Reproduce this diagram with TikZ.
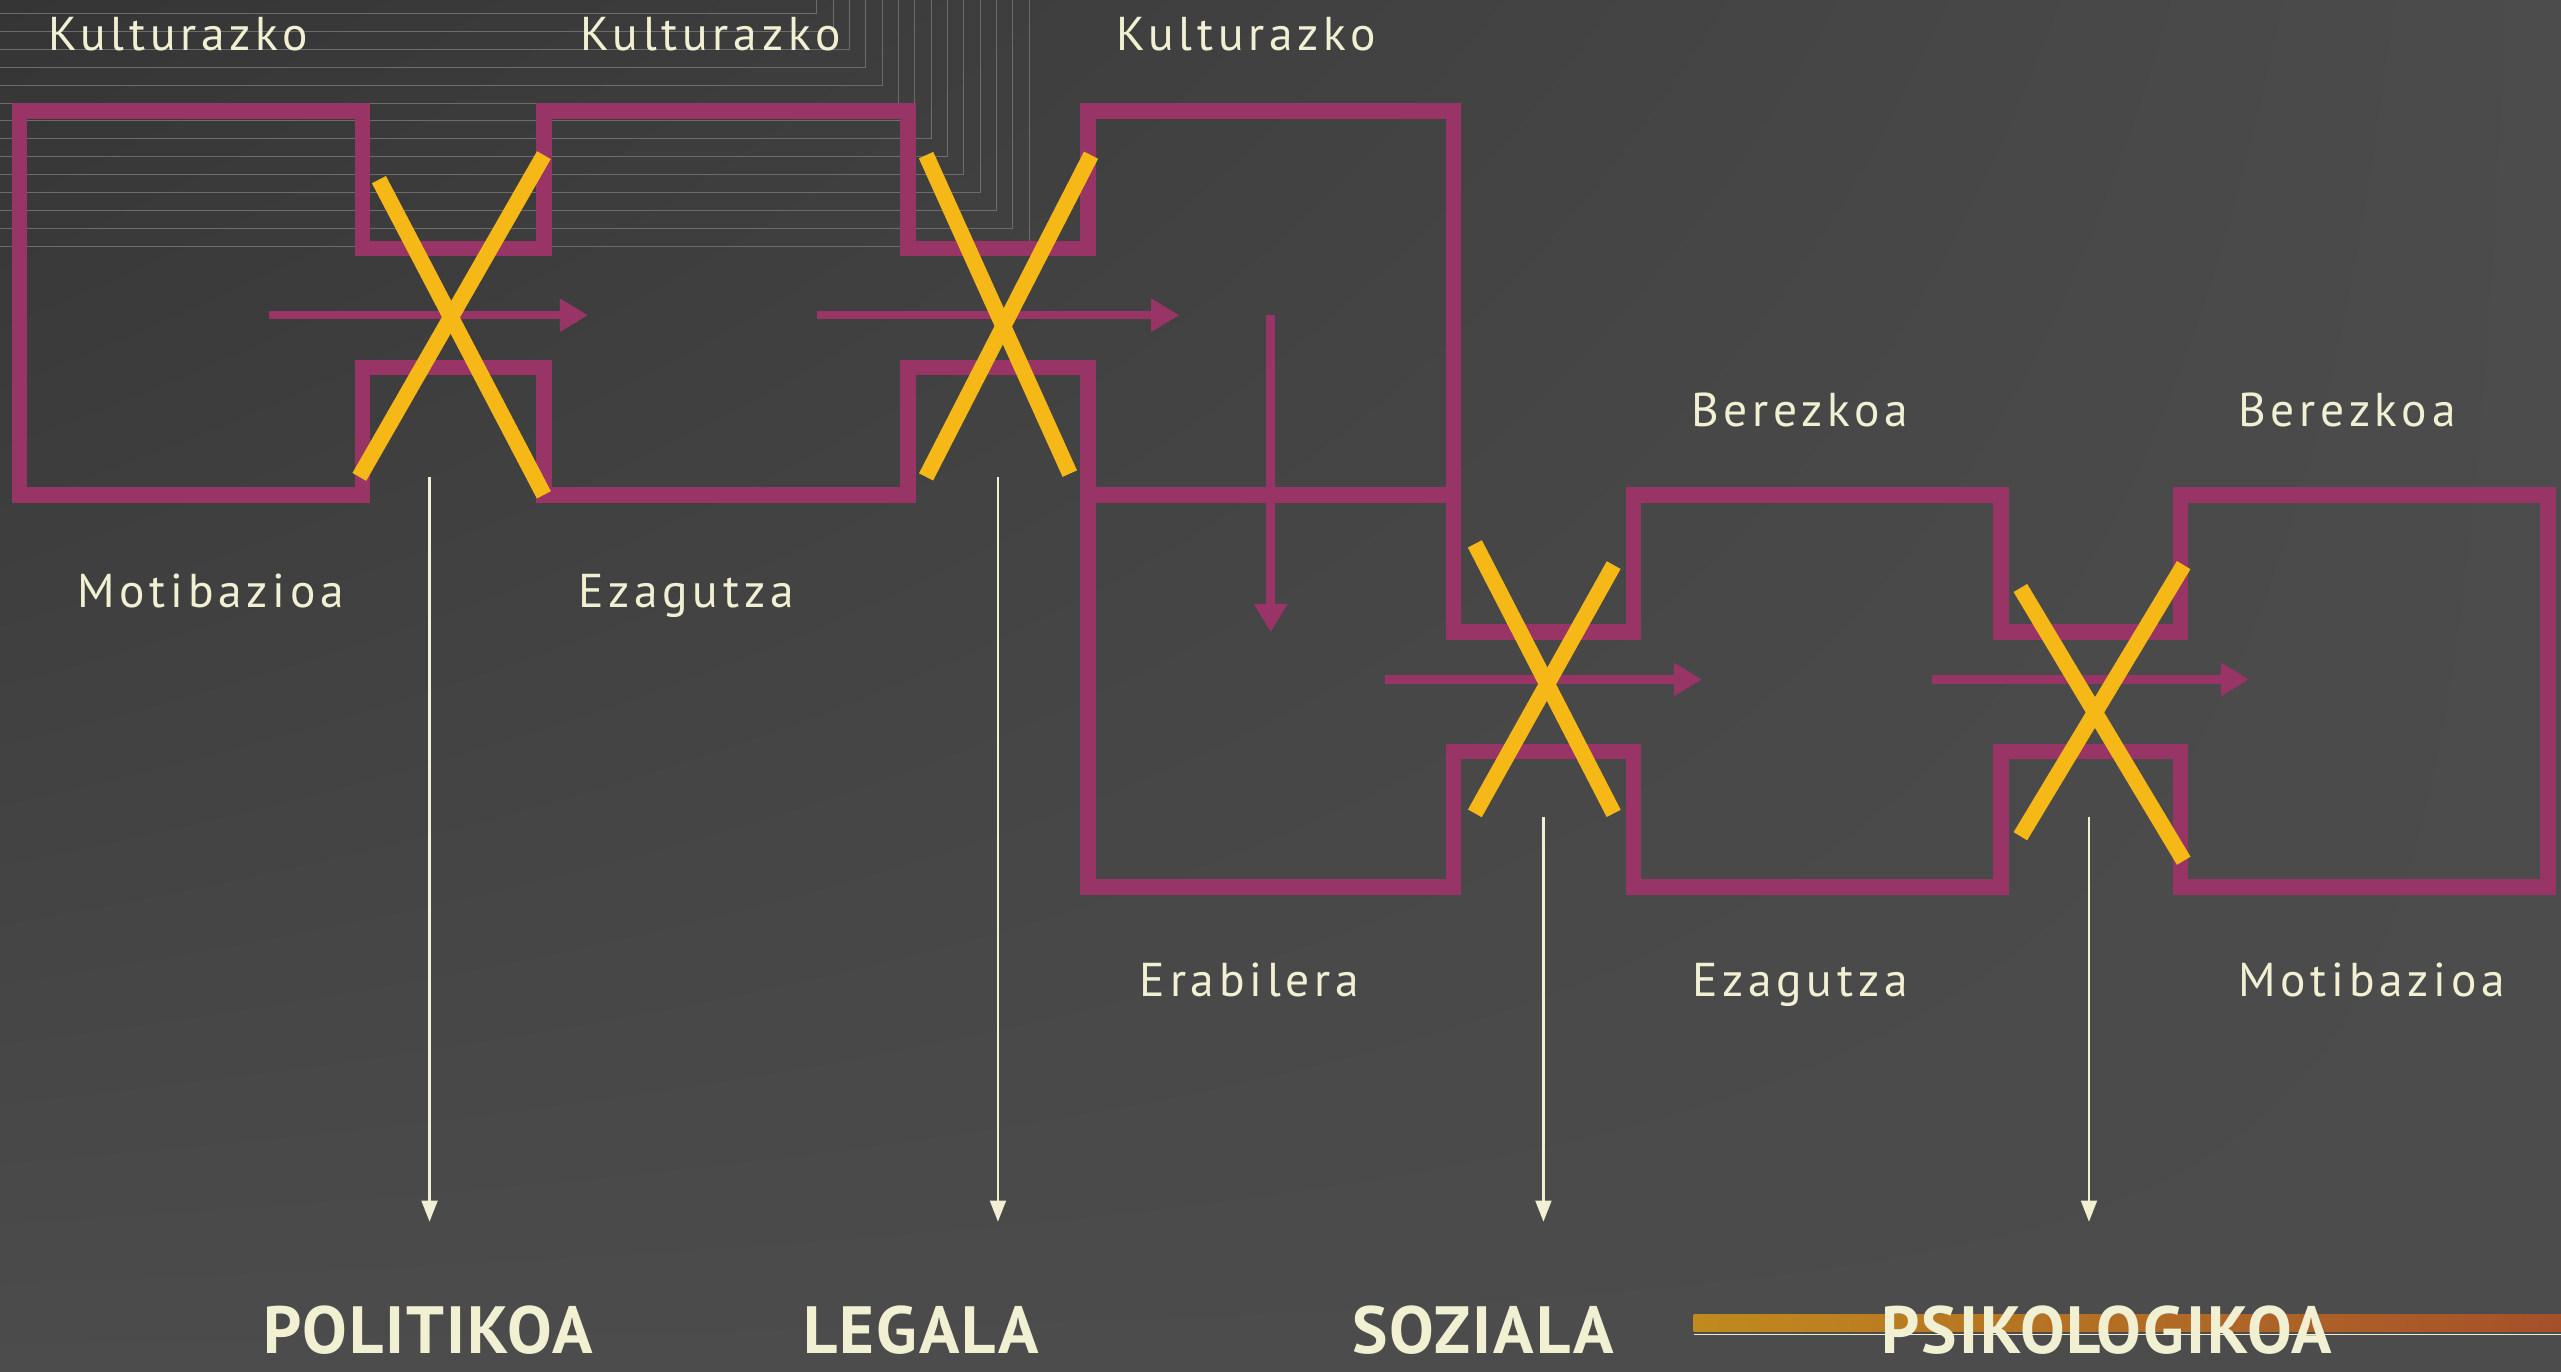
\documentclass[tikz,border=0pt]{standalone}
\usepackage{fontspec}
\setmainfont{PT Sans}
\newfontfamily\labelfont[LetterSpace=10]{PT Sans}
\newfontfamily\catfont[LetterSpace=3]{PT Sans}
\usetikzlibrary{arrows.meta,shadings}
\definecolor{bgc}{HTML}{4C4C4C}
\definecolor{darkc}{HTML}{353535}
\definecolor{wallc}{HTML}{983566}
\definecolor{crossc}{HTML}{F5B817}
\definecolor{textc}{HTML}{F2F0D2}
\definecolor{linec}{HTML}{6C6C6C}
\definecolor{barl}{HTML}{C08A1E}
\definecolor{barr}{HTML}{A5502A}

\begin{document}
\begin{tikzpicture}[x=0.016333cm,y=-0.016333cm,
    wall/.style={draw=wallc,line width=4.4pt,line join=miter},
    cross/.style={draw=crossc,line width=4.5pt},
    flow/.style={draw=wallc,line width=2.4pt,-{Triangle[length=8pt,width=9pt]}},
    drop/.style={draw=textc,line width=0.7pt,-{Triangle[length=6pt,width=4.5pt]}},
    lbl/.style={text=textc,anchor=base,font=\labelfont\fontsize{13.5}{14}\selectfont},
    cat/.style={text=textc,anchor=base,inner sep=0pt,font=\catfont\bfseries\fontsize{19}{21}\selectfont}]
	%the background
	    \useasboundingbox (0,0) rectangle (1568,840);
	    \shade[upper left=darkc,upper right=bgc,lower left=bgc,lower right=bgc] (0,0) rectangle (1568,840);
	    \foreach \i in {0,...,13}
	        \draw[linec,very thin] (0,8+11*\i) -| (500+10*\i,0);
	%the channels
	    \draw[wall] (12,68) -- (222,68) -- (222,152) -- (333,152) -- (333,68)
	        -- (556,68) -- (556,152) -- (666,152) -- (666,68) -- (890,68)
	        -- (890,387) -- (1000,387) -- (1000,303) -- (1225,303) -- (1225,387)
	        -- (1335,387) -- (1335,303) -- (1560,303) -- (1560,543) -- (1335,543)
	        -- (1335,460) -- (1225,460) -- (1225,543) -- (1000,543) -- (1000,460)
	        -- (890,460) -- (890,543) -- (666,543) -- (666,225) -- (556,225)
	        -- (556,303) -- (333,303) -- (333,225) -- (222,225) -- (222,303)
	        -- (12,303) -- cycle;
	    \draw[wall] (666,303) -- (890,303);
	%the flows
	    \coordinate (f1a) at (165,193); \coordinate (f1b) at (360,193);
	    \coordinate (f2a) at (500,193); \coordinate (f2b) at (722,193);
	    \coordinate (fva) at (778,193); \coordinate (fvb) at (778,387);
	    \coordinate (f3a) at (848,416); \coordinate (f3b) at (1042,416);
	    \coordinate (f4a) at (1183,416); \coordinate (f4b) at (1377,416);
	    \draw[flow] (f1a) -- (f1b);
	    \draw[flow] (f2a) -- (f2b);
	    \draw[flow] (fva) -- (fvb);
	    \draw[flow] (f3a) -- (f3b);
	    \draw[flow] (f4a) -- (f4b);
	%the barriers
	    \draw[cross] (232,110) -- (333,303);
	    \draw[cross] (333,95) -- (220,292);
	    \draw[cross] (567,95) -- (655,290);
	    \draw[cross] (668,95) -- (567,292);
	    \draw[cross] (903,333) -- (988,498);
	    \draw[cross] (988,346) -- (903,498);
	    \draw[cross] (1237,360) -- (1337,527);
	    \draw[cross] (1337,346) -- (1237,512);
	%the outcomes
	    \foreach \x/\y/\n in {263/292/1,611/292/2,945/500/3,1279/500/4}{
	        \coordinate (d\n a) at (\x,\y);
	        \coordinate (d\n b) at (\x,748);
	        \draw[drop] (d\n a) -- (d\n b);
	    }
	    \shade[left color=barl,right color=barr] (1037,805) rectangle (1568,815);
	    \draw[textc,thin] (1037,817) -- (1568,817);
	%the labels
	    \node[lbl] (kul1) at (109,31) {Kulturazko};
	    \node[lbl] (kul2) at (435,31) {Kulturazko};
	    \node[lbl] (kul3) at (763,31) {Kulturazko};
	    \node[lbl] (mot1) at (129,372) {Motibazioa};
	    \node[lbl] (eza1) at (420,372) {Ezagutza};
	    \node[lbl] (ber1) at (1102,261) {Berezkoa};
	    \node[lbl] (ber2) at (1437,261) {Berezkoa};
	    \node[lbl] (era) at (765,610) {Erabilera};
	    \node[lbl] (eza2) at (1102,610) {Ezagutza};
	    \node[lbl] (mot2) at (1452,610) {Motibazioa};
	    \node[cat] (pol) at (262,829) {POLITIKOA};
	    \node[cat] (leg) at (564,829) {LEGALA};
	    \node[cat] (soz) at (908,829) {SOZIALA};
	    \node[cat] (psi) at (1290,829) {PSIKOLOGIKOA};
\end{tikzpicture}
\end{document}
